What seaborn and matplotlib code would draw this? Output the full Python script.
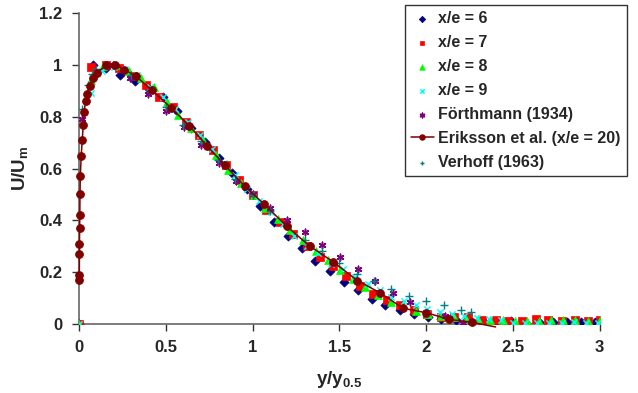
import matplotlib
matplotlib.use("Agg")
import matplotlib.pyplot as plt
import seaborn as sns
import pandas as pd

# x/e = 6
x6 = [0, 0.08, 0.156, 0.238, 0.32, 0.40, 0.485, 0.564, 0.647, 0.723, 0.805, 0.883, 0.968, 1.042, 1.122,
      1.203, 1.283, 1.362, 1.444, 1.525, 1.606, 1.686, 1.765, 1.847, 1.927, 2.008, 2.088, 2.17, 2.25,
      2.33, 2.41, 2.49, 2.57, 2.65, 2.73, 2.81, 2.89, 2.97]
y6 = [0, 1.0, 0.99, 0.963, 0.938, 0.909, 0.878, 0.824, 0.756, 0.704, 0.642, 0.582, 0.523, 0.456, 0.395,
      0.341, 0.293, 0.244, 0.203, 0.163, 0.13, 0.096, 0.073, 0.055, 0.038, 0.026, 0.017, 0.013, 0.01,
      0.01, 0.009, 0.01, 0.008, 0.009, 0.008, 0.008, 0.007, 0.008]
# x/e = 7
x7 = [0, 0.07, 0.156, 0.229, 0.308, 0.386, 0.463, 0.542, 0.614, 0.692, 0.769, 0.847, 0.923, 1.0, 1.077,
      1.155, 1.234, 1.311, 1.388, 1.465, 1.54, 1.617, 1.695, 1.774, 1.85, 1.93, 2.006, 2.084, 2.16, 2.24,
      2.32, 2.40, 2.47, 2.55, 2.63, 2.70, 2.78, 2.86, 2.93, 3.0]
y7 = [0, 0.994, 1.0, 0.987, 0.958, 0.923, 0.878, 0.839, 0.781, 0.730, 0.672, 0.613, 0.555, 0.497, 0.44,
      0.392, 0.347, 0.302, 0.26, 0.225, 0.184, 0.148, 0.116, 0.094, 0.071, 0.054, 0.039, 0.026, 0.025,
      0.026, 0.016, 0.016, 0.012, 0.012, 0.018, 0.015, 0.012, 0.013, 0.012, 0.014]
# x/e = 8
x8 = [0, 0.068, 0.135, 0.21, 0.286, 0.357, 0.432, 0.504, 0.57, 0.643, 0.716, 0.787, 0.86, 0.933, 1.005,
      1.073, 1.146, 1.218, 1.293, 1.366, 1.433, 1.505, 1.577, 1.65, 1.723, 1.796, 1.869, 1.939, 2.011,
      2.085, 2.16, 2.23, 2.30, 2.37, 2.44, 2.51, 2.58, 2.65, 2.72, 2.79, 2.86, 2.93, 3.0]
y8 = [0, 0.944, 0.998, 1.0, 0.979, 0.949, 0.914, 0.859, 0.807, 0.758, 0.711, 0.654, 0.596, 0.544, 0.497,
      0.447, 0.405, 0.364, 0.325, 0.283, 0.246, 0.208, 0.174, 0.141, 0.113, 0.086, 0.071, 0.051, 0.039,
      0.029, 0.025, 0.019, 0.019, 0.013, 0.013, 0.01, 0.01, 0.01, 0.013, 0.013, 0.013, 0.01, 0.013]
# x/e = 9
x9 = [0, 0.07, 0.134, 0.203, 0.266, 0.335, 0.408, 0.482, 0.555, 0.625, 0.698, 0.766, 0.834, 0.90, 0.969,
      1.037, 1.104, 1.174, 1.241, 1.311, 1.378, 1.452, 1.522, 1.592, 1.664, 1.732, 1.80, 1.873, 1.939,
      2.006, 2.079, 2.147, 2.216, 2.29, 2.36, 2.43, 2.50, 2.57, 2.64, 2.71, 2.78, 2.85, 2.92, 2.99]
y9 = [0, 0.893, 0.977, 0.994, 0.985, 0.961, 0.914, 0.878, 0.83, 0.781, 0.730, 0.675, 0.621, 0.575, 0.523,
      0.476, 0.433, 0.386, 0.341, 0.302, 0.274, 0.231, 0.21, 0.181, 0.154, 0.131, 0.105, 0.087, 0.071,
      0.058, 0.045, 0.039, 0.029, 0.023, 0.017, 0.013, 0.005, 0.005, 0.003, 0.003, 0.003, 0.008, 0.003, 0.003]
# Förthmann (1934)
x_fo = [0.015, 0.196, 0.296, 0.397, 0.50, 0.604, 0.705, 0.805, 0.903, 1.0, 1.10, 1.20, 1.30, 1.40, 1.505,
        1.605, 1.704, 1.808, 1.909, 2.107, 2.21, 2.26]
y_fo = [0.79, 1.0, 0.949, 0.89, 0.821, 0.76, 0.692, 0.62, 0.553, 0.50, 0.447, 0.402, 0.356, 0.306, 0.257,
        0.213, 0.167, 0.12, 0.083, 0.029, 0.002, 0.0]
# Eriksson et al. (x/e = 20), last point is the end of the line only
x_er = [0.001, 0.001, 0.002, 0.002, 0.003, 0.004, 0.005, 0.007, 0.012, 0.018, 0.024, 0.029, 0.037, 0.046,
        0.06, 0.079, 0.103, 0.156, 0.207, 0.26, 0.33, 0.42, 0.53, 0.635, 0.737, 0.84, 0.955, 1.066, 1.196,
        1.328, 1.463, 1.604, 1.734, 1.867, 2.0, 2.134, 2.262, 2.4]
y_er = [0.17, 0.19, 0.27, 0.31, 0.37, 0.42, 0.50, 0.57, 0.65, 0.71, 0.77, 0.82, 0.86, 0.89, 0.92, 0.95,
        0.97, 1.0, 1.0, 0.983, 0.956, 0.902, 0.835, 0.765, 0.688, 0.613, 0.531, 0.463, 0.377, 0.301, 0.24,
        0.167, 0.12, 0.06, 0.043, 0.017, 0.006, -0.012]
# Verhoff (1963)
x_ve = [0.016, 0.049, 0.077, 0.10, 0.2, 0.3, 0.4, 0.5, 0.6, 0.7, 0.8, 0.9, 1.0, 1.1, 1.2, 1.3, 1.4, 1.5,
        1.6, 1.7, 1.8, 1.9, 2.0, 2.1, 2.2, 2.26]
y_ve = [0.832, 0.922, 0.964, 0.985, 1.0, 0.96, 0.905, 0.84, 0.77, 0.705, 0.635, 0.56, 0.497, 0.435, 0.379,
        0.325, 0.28, 0.234, 0.193, 0.164, 0.135, 0.106, 0.087, 0.071, 0.054, 0.047]

sns.set_theme(style="ticks")
plt.rcParams["font.family"] = ["Liberation Sans", "DejaVu Sans"]
plt.rcParams["font.weight"] = "bold"
plt.rcParams["mathtext.fontset"] = "custom"
plt.rcParams["mathtext.bf"] = "Liberation Sans:bold"
plt.rcParams["mathtext.rm"] = "Liberation Sans:bold"

fig = plt.figure(figsize=(6.38, 3.93), dpi=100)
ax = fig.add_axes([0.124, 0.176, 0.816, 0.79])

series = [
    (x6, y6, "x/e = 6", "D", "#000080", 22),
    (x7, y7, "x/e = 7", "s", "#FF0000", 26),
    (x8, y8, "x/e = 8", "^", "#00FF00", 32),
    (x9, y9, "x/e = 9", "x", "#00FFFF", 20),
    (x_fo, y_fo, "Förthmann (1934)", (6, 2, 0), "#800080", 22),
]
for xs, ys, lab, mk, col, size in series:
    df = pd.DataFrame({"x": xs, "y": ys})
    if mk in ("x", (6, 2, 0)):
        sns.scatterplot(data=df, x="x", y="y", marker=mk, color=col, s=size, linewidth=1.1,
                        label=lab, ax=ax, zorder=3)
    else:
        sns.scatterplot(data=df, x="x", y="y", marker=mk, color=col, s=size, edgecolor=col,
                        linewidth=0.5, label=lab, ax=ax, zorder=3)

df_er = pd.DataFrame({"x": x_er, "y": y_er})
sns.lineplot(data=df_er, x="x", y="y", estimator=None, sort=False, color="#800000", lw=1.1,
             marker="o", markersize=5.5, markeredgecolor="#800000", markevery=list(range(len(x_er) - 1)),
             label="Eriksson et al. (x/e = 20)", ax=ax, zorder=4, clip_on=False)

df_ve = pd.DataFrame({"x": x_ve, "y": y_ve})
sns.scatterplot(data=df_ve, x="x", y="y", marker="+", color="#008080", s=26, linewidth=1.0,
                label="Verhoff (1963)", ax=ax, zorder=3)

ax.set_xlim(0, 3)
ax.set_ylim(0, 1.2)
ax.set_xticks([0, 0.5, 1, 1.5, 2, 2.5, 3])
ax.set_xticklabels(["0", "0.5", "1", "1.5", "2", "2.5", "3"])
ax.set_yticks([0, 0.2, 0.4, 0.6, 0.8, 1, 1.2])
ax.set_yticklabels(["0", "0.2", "0.4", "0.6", "0.8", "1", "1.2"])
ax.tick_params(labelsize=12, length=5, width=1, color="#333333", pad=7)
for lbl in ax.get_xticklabels() + ax.get_yticklabels():
    lbl.set_fontweight("bold")
sns.despine(ax=ax)
for side in ("left", "bottom"):
    ax.spines[side].set_color("#666666")
    ax.spines[side].set_linewidth(1.2)

ax.set_xlabel(r"y/y$_\mathbf{0.5}$", fontsize=13.5, fontweight="bold", labelpad=10)
ax.set_ylabel(r"U/U$_\mathbf{m}$", fontsize=13.5, fontweight="bold", labelpad=6)

leg = ax.legend(loc="upper right", bbox_to_anchor=(0.983, 0.988), bbox_transform=fig.transFigure,
                frameon=True, fancybox=False, edgecolor="black", fontsize=11.5, markerscale=0.7,
                labelspacing=0.56, handlelength=1.4, handletextpad=0.3, borderpad=0.4,
                borderaxespad=0)
leg.get_frame().set_linewidth(1.0)
for t in leg.get_texts():
    t.set_fontweight("bold")

fig.savefig("out.png", dpi=100)
